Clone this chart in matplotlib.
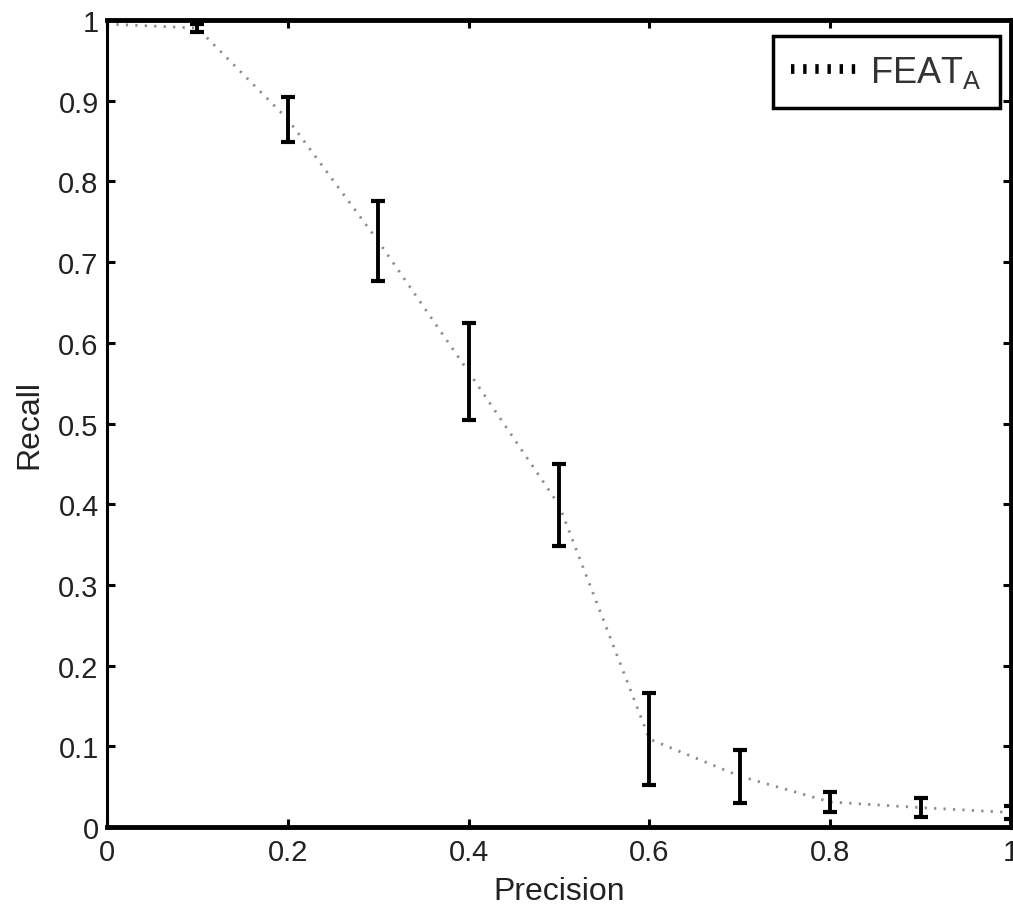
import numpy as np
import matplotlib
matplotlib.use('Agg')
import matplotlib.pyplot as plt
from matplotlib.lines import Line2D

# precision / recall curve with spread at each precision step
precision = [0.0, 0.1, 0.2, 0.3, 0.4, 0.5, 0.6, 0.7, 0.8, 0.9, 1.0]
recall = [0.995, 0.990, 0.877, 0.726, 0.564, 0.399, 0.109, 0.063, 0.031, 0.024, 0.018]
recall_err = [0.0, 0.005, 0.028, 0.050, 0.060, 0.051, 0.057, 0.033, 0.012, 0.012, 0.008]

xticks = [0, 0.2, 0.4, 0.6, 0.8, 1]
xtick_labels = ['0', '0.2', '0.4', '0.6', '0.8', '1']
yticks = [0, 0.1, 0.2, 0.3, 0.4, 0.5, 0.6, 0.7, 0.8, 0.9, 1]
ytick_labels = ['0', '0.1', '0.2', '0.3', '0.4', '0.5', '0.6', '0.7', '0.8', '0.9', '1']

plt.rcParams['font.family'] = ['Liberation Sans', 'DejaVu Sans']
plt.rcParams['mathtext.fontset'] = 'custom'
plt.rcParams['mathtext.rm'] = 'Liberation Sans'
plt.rcParams['mathtext.it'] = 'Liberation Sans'

W, H = 1013, 912
fig = plt.figure(figsize=(W / 100, H / 100), dpi=100)
ax = fig.add_axes([107 / W, (H - 828) / H, (1011 - 107) / W, (828 - 21) / H])

# dotted grey curve
ax.plot(precision, recall, color='#8c8c8c', lw=2.0, linestyle=(0, (0.8, 2.6)))

# black error bars (skip the zero-width one at precision 0)
x = np.array(precision)
y = np.array(recall)
e = np.array(recall_err)
m = e > 0
ax.errorbar(x[m], y[m], yerr=e[m], fmt='none', ecolor='black',
            elinewidth=2.8, capsize=5, capthick=3, clip_on=False, zorder=3)

ax.set_xlim(0, 1)
ax.set_ylim(0, 1)
ax.set_xticks(xticks)
ax.set_xticklabels(xtick_labels)
ax.set_yticks(yticks)
ax.set_yticklabels(ytick_labels)
ax.tick_params(direction='in', length=6, width=2.2, top=True, right=True,
               labelsize=21, pad=8, labelcolor='#222222')
ax.tick_params(axis='y', pad=6)

for side in ['top', 'bottom', 'right']:
    ax.spines[side].set_linewidth(3.5)
ax.spines['left'].set_linewidth(2.2)

ax.set_xlabel('Precision', fontsize=23, labelpad=7, color='#222222')
ax.set_ylabel('Recall', fontsize=23, labelpad=10, color='#222222')

handle = Line2D([], [], color='black', lw=7, linestyle=(0, (0.35, 0.9)))
leg = ax.legend([handle], ['FEAT$_{\\mathrm{A}}$'], loc='upper right',
                bbox_to_anchor=(1000 / W, 1 - 37 / H), bbox_transform=fig.transFigure,
                borderaxespad=0, fontsize=26, handlelength=1.9, handletextpad=0.3,
                borderpad=0.5, fancybox=False, framealpha=1, edgecolor='black')
leg.get_frame().set_linewidth(2.5)
for t in leg.get_texts():
    t.set_color('#333333')

fig.savefig('out.png', dpi=100)
